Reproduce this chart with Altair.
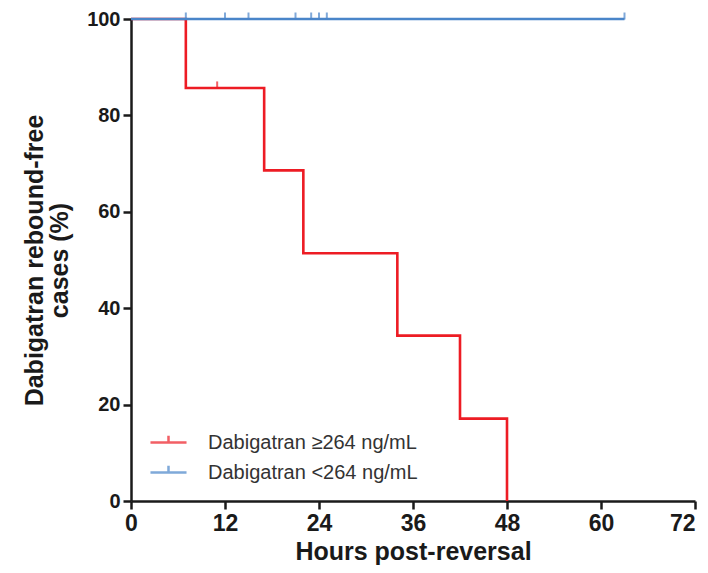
import altair as alt
import pandas as pd

# Kaplan-Meier data
high_label = "Dabigatran ≥264 ng/mL"
low_label = "Dabigatran <264 ng/mL"

red_time = [0, 7, 17, 22, 34, 42, 48]
red_surv = [100, 85.7, 68.6, 51.4, 34.3, 17.1, 0]
red_censor_time = [11]
red_censor_surv = [85.7]

blue_time = [0, 63]
blue_surv = [100, 100]
blue_censor_time = [7, 12, 15, 21, 23, 24, 25, 63]
blue_censor_surv = [100, 100, 100, 100, 100, 100, 100, 100]

x_ticks = [0, 12, 24, 36, 48, 60, 72]
y_ticks = [0, 20, 40, 60, 80, 100]

RED = "#ed1c24"
BLUE = "#4a85c9"
FONT = "Liberation Sans"

red_df = pd.DataFrame({"t": red_time, "s": red_surv, "g": high_label})
blue_df = pd.DataFrame({"t": blue_time, "s": blue_surv, "g": low_label})
red_c = pd.DataFrame({"t": red_censor_time, "s": red_censor_surv, "g": high_label})
blue_c = pd.DataFrame({"t": blue_censor_time, "s": blue_censor_surv, "g": low_label})

xs = alt.Scale(domain=[0, 72], nice=False, zero=True)
ys = alt.Scale(domain=[0, 100], nice=False)
cs = alt.Scale(domain=[high_label, low_label], range=[RED, BLUE])

x_enc = alt.X("t:Q", scale=xs, axis=alt.Axis(
    values=x_ticks, title="Hours post-reversal", format="d",
    labelAlign={"condition": {"test": "datum.value >= 72", "value": "right"}, "value": "center"}))
y_enc = alt.Y("s:Q", scale=ys, axis=alt.Axis(
    values=y_ticks, title=["Dabigatran rebound-free", "cases (%)"], format="d"))

legend = alt.Legend(
    title=None, orient="none", legendX=18, legendY=404,
    symbolType="M-1,0H1M0,0V-0.38", symbolSize=1300, symbolStrokeWidth=2.5,
    labelFont=FONT, labelFontSize=20, labelColor="#333333", labelLimit=0,
    rowPadding=-9, labelOffset=20, symbolFillColor="transparent",
)

red_line = alt.Chart(red_df).mark_line(interpolate="step-after", strokeWidth=2.6).encode(
    x=x_enc, y=y_enc, color=alt.Color("g:N", scale=cs, legend=legend))
blue_line = alt.Chart(blue_df).mark_line(interpolate="step-after", strokeWidth=2.6).encode(
    x="t:Q", y="s:Q", color=alt.Color("g:N", scale=cs, legend=legend))
red_ticks = alt.Chart(red_c).mark_tick(orient="vertical", size=7, thickness=2, yOffset=-3).encode(
    x="t:Q", y="s:Q", color=alt.Color("g:N", scale=cs, legend=legend))
blue_ticks = alt.Chart(blue_c).mark_tick(orient="vertical", size=7, thickness=2, yOffset=-3).encode(
    x="t:Q", y="s:Q", color=alt.Color("g:N", scale=cs, legend=legend))

chart = alt.layer(red_line, red_ticks, blue_line, blue_ticks).properties(
    width=564, height=482,
    autosize=alt.AutoSizeParams(type="none"),
    padding={"left": 123, "top": 11, "right": 5, "bottom": 64},
).configure_view(stroke=None).configure_axis(
    grid=False, domainColor="#1a1a1a", domainWidth=2.5, tickColor="#1a1a1a",
    tickWidth=2.5, tickSize=8, labelFont=FONT, labelFontSize=23, labelFontWeight="bold",
    labelColor="#1a1a1a", titleFont=FONT, titleFontSize=25, titleFontWeight="bold",
    titleColor="#1a1a1a", labelPadding=3,
).configure_axisX(titlePadding=4, labelFlush=False).configure_axisY(
    labelFontSize=20, titlePadding=14, titleLineHeight=25)

chart.save("out.html", embed_options={"renderer": "svg", "actions": False})
